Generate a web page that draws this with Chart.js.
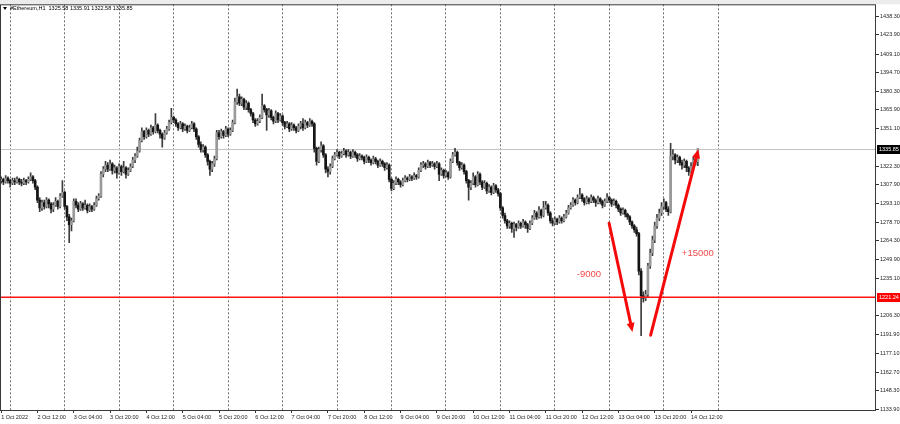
<!DOCTYPE html>
<html>
<head>
<meta charset="utf-8">
<title>#Ethereum,H1</title>
<script src="https://cdn.jsdelivr.net/npm/chart.js@4.4.1/dist/chart.umd.min.js"></script>
<style>
  html, body { margin: 0; padding: 0; background: #fff; }
  #chart { display: block; }
</style>
</head>
<body>
<canvas id="chart" width="900" height="424"></canvas>
<script>
// --- Du lieu: nen H1 #Ethereum, 1 Oct 2022 20:00 -> 14 Oct 2022 15:00 ---
const symbolName = '#Ethereum,H1';

const opens = [
  1311,1312,1310,1313,1311,1309,1311,1310,1312,1310,
  1309,1311,1310,1312,1314,1311,1306,1296,1290,1294,
  1291,1296,1293,1289,1292,1295,1291,1299,1302,1291,
  1283,1277,1280,1295,1292,1289,1293,1290,1292,1288,
  1291,1289,1292,1297,1299,1316,1320,1323,1320,1324,
  1319,1321,1317,1322,1318,1321,1316,1319,1322,1327,
  1330,1334,1342,1349,1345,1350,1347,1352,1349,1354,
  1350,1347,1344,1348,1351,1356,1360,1358,1355,1352,
  1355,1351,1353,1350,1352,1355,1351,1345,1339,1335,
  1337,1331,1326,1320,1324,1328,1348,1345,1349,1346,
  1351,1347,1350,1356,1372,1376,1371,1374,1368,1371,
  1366,1363,1358,1355,1357,1360,1369,1366,1362,1365,
  1360,1357,1363,1358,1361,1356,1353,1355,1351,1354,
  1352,1350,1353,1355,1352,1356,1354,1357,1355,1336,
  1326,1335,1338,1331,1320,1318,1322,1328,1331,1333,
  1330,1332,1334,1331,1333,1330,1333,1331,1328,1330,
  1329,1326,1329,1327,1325,1328,1326,1323,1326,1324,
  1321,1323,1312,1305,1309,1312,1310,1308,1311,1313,
  1312,1314,1313,1315,1314,1319,1323,1324,1322,1325,
  1323,1324,1322,1324,1316,1319,1315,1317,1314,1326,
  1331,1333,1325,1321,1323,1318,1311,1306,1309,1314,
  1308,1316,1310,1306,1309,1303,1306,1302,1307,1304,
  1301,1290,1284,1280,1276,1278,1274,1277,1275,1278,
  1276,1279,1277,1274,1278,1282,1286,1283,1288,1284,
  1290,1292,1286,1280,1278,1281,1279,1282,1280,1283,
  1286,1290,1292,1296,1294,1298,1300,1297,1294,1297,
  1295,1298,1296,1294,1297,1295,1292,1295,1298,1296,
  1293,1295,1292,1289,1286,1288,1285,1283,1279,1276,
  1273,1270,1241,1222,1220,1223,1245,1255,1265,1276,
  1282,1286,1291,1294,1289,1287,1330,1331,1327,1329,
  1325,1323,1326,1321,1318,1322,1327,1325.58
];
const highs = [
  1314,1313,1315,1314,1312,1313,1313,1314,1313,1312,
  1313,1312,1314,1317,1315,1312,1307,1298,1296,1296,
  1298,1297,1294,1294,1298,1296,1301,1311,1303,1292,
  1285,1282,1297,1297,1294,1295,1294,1296,1293,1293,
  1292,1294,1299,1301,1318,1322,1326,1325,1327,1325,
  1323,1322,1324,1323,1326,1322,1321,1324,1329,1332,
  1337,1344,1352,1350,1352,1351,1354,1353,1363,1355,
  1351,1348,1350,1353,1358,1367,1361,1359,1356,1357,
  1356,1355,1354,1354,1357,1356,1352,1346,1341,1339,
  1338,1332,1327,1326,1330,1350,1350,1351,1350,1353,
  1352,1352,1358,1375,1382,1378,1376,1375,1373,1372,
  1367,1364,1359,1359,1362,1378,1370,1367,1367,1366,
  1361,1365,1364,1363,1362,1357,1357,1356,1356,1355,
  1353,1355,1357,1359,1358,1357,1359,1358,1356,1337,
  1337,1341,1339,1332,1322,1324,1330,1333,1335,1334,
  1334,1336,1335,1335,1334,1335,1334,1332,1332,1331,
  1330,1331,1330,1328,1330,1329,1327,1328,1327,1325,
  1325,1324,1313,1311,1314,1313,1311,1313,1315,1314,
  1316,1315,1317,1316,1321,1325,1326,1325,1327,1326,
  1326,1325,1326,1325,1321,1320,1319,1318,1328,1333,
  1336,1334,1326,1325,1324,1319,1312,1311,1317,1315,
  1318,1317,1311,1311,1310,1308,1307,1309,1308,1305,
  1302,1291,1286,1281,1280,1279,1279,1278,1280,1279,
  1281,1280,1278,1280,1284,1288,1287,1291,1289,1295,
  1295,1293,1287,1282,1283,1282,1284,1283,1285,1288,
  1292,1294,1298,1297,1300,1305,1301,1298,1299,1298,
  1300,1299,1297,1299,1298,1296,1297,1301,1299,1297,
  1297,1296,1293,1290,1290,1289,1286,1284,1280,1277,
  1275,1271,1243,1225,1226,1247,1258,1268,1279,1285,
  1289,1294,1297,1295,1291,1340,1335,1332,1331,1330,
  1327,1328,1327,1322,1325,1329,1328,1335.91
];
const lows = [
  1309,1308,1309,1309,1306,1308,1308,1309,1308,1307,
  1308,1308,1309,1311,1309,1304,1294,1287,1288,1289,
  1290,1290,1286,1287,1291,1289,1290,1298,1289,1280,
  1263,1272,1279,1290,1287,1288,1288,1289,1286,1287,
  1287,1288,1291,1296,1298,1314,1318,1318,1319,1316,
  1317,1313,1316,1315,1317,1313,1315,1318,1321,1325,
  1329,1333,1341,1343,1344,1345,1346,1347,1348,1348,
  1344,1337,1343,1347,1350,1355,1356,1353,1350,1351,
  1349,1350,1348,1349,1351,1349,1343,1337,1333,1333,
  1329,1323,1315,1318,1322,1327,1343,1344,1344,1345,
  1345,1346,1349,1355,1370,1369,1369,1366,1366,1364,
  1361,1356,1353,1354,1356,1359,1364,1350,1360,1358,
  1355,1356,1356,1357,1354,1351,1352,1349,1350,1350,
  1348,1349,1351,1350,1351,1352,1353,1353,1333,1323,
  1325,1333,1329,1317,1314,1316,1321,1327,1330,1328,
  1329,1331,1329,1330,1328,1329,1329,1326,1327,1327,
  1324,1325,1325,1323,1324,1324,1321,1322,1322,1319,
  1320,1310,1303,1304,1308,1308,1306,1307,1310,1310,
  1311,1311,1312,1312,1313,1318,1321,1320,1321,1321,
  1322,1320,1321,1311,1315,1313,1314,1312,1313,1325,
  1330,1323,1319,1320,1316,1309,1296,1304,1308,1306,
  1307,1308,1304,1305,1301,1302,1300,1301,1302,1299,
  1288,1282,1278,1274,1274,1271,1267,1272,1274,1274,
  1275,1274,1271,1273,1277,1281,1281,1282,1282,1283,
  1289,1284,1278,1276,1277,1277,1278,1278,1279,1282,
  1285,1289,1291,1292,1293,1297,1295,1292,1293,1293,
  1294,1294,1291,1293,1293,1290,1291,1294,1294,1291,
  1292,1290,1287,1284,1285,1283,1281,1277,1274,1271,
  1268,1238,1191,1217,1218,1221,1243,1253,1263,1274,
  1280,1284,1289,1287,1284,1286,1327,1324,1325,1323,
  1320,1321,1318,1315,1317,1320,1323,1322.58
];
const closes = [
  1312,1310,1313,1311,1309,1311,1310,1312,1310,1309,
  1311,1310,1312,1314,1311,1306,1296,1290,1294,1291,
  1296,1293,1289,1292,1295,1291,1299,1302,1291,1283,
  1277,1280,1295,1292,1289,1293,1290,1292,1288,1291,
  1289,1292,1297,1299,1316,1320,1323,1320,1324,1319,
  1321,1317,1322,1318,1321,1316,1319,1322,1327,1330,
  1334,1342,1349,1345,1350,1347,1352,1349,1354,1350,
  1347,1344,1348,1351,1356,1360,1358,1355,1352,1355,
  1351,1353,1350,1352,1355,1351,1345,1339,1335,1337,
  1331,1326,1320,1324,1328,1348,1345,1349,1346,1351,
  1347,1350,1356,1372,1376,1371,1374,1368,1371,1366,
  1363,1358,1355,1357,1360,1369,1366,1362,1365,1360,
  1357,1363,1358,1361,1356,1353,1355,1351,1354,1352,
  1350,1353,1355,1352,1356,1354,1357,1355,1336,1326,
  1335,1338,1331,1320,1318,1322,1328,1331,1333,1330,
  1332,1334,1331,1333,1330,1333,1331,1328,1330,1329,
  1326,1329,1327,1325,1328,1326,1323,1326,1324,1321,
  1323,1312,1305,1309,1312,1310,1308,1311,1313,1312,
  1314,1313,1315,1314,1319,1323,1324,1322,1325,1323,
  1324,1322,1324,1316,1319,1315,1317,1314,1326,1331,
  1333,1325,1321,1323,1318,1311,1306,1309,1314,1308,
  1316,1310,1306,1309,1303,1306,1302,1307,1304,1301,
  1290,1284,1280,1276,1278,1274,1277,1275,1278,1276,
  1279,1277,1274,1278,1282,1286,1283,1288,1284,1290,
  1292,1286,1280,1278,1281,1279,1282,1280,1283,1286,
  1290,1292,1296,1294,1298,1300,1297,1294,1297,1295,
  1298,1296,1294,1297,1295,1292,1295,1298,1296,1293,
  1295,1292,1289,1286,1288,1285,1283,1279,1276,1273,
  1270,1241,1222,1220,1223,1245,1255,1265,1276,1282,
  1286,1291,1294,1289,1287,1330,1331,1327,1329,1325,
  1323,1326,1321,1318,1322,1327,1325.58,1335.85
];

// nhan truc thoi gian (moi 16 nen)
const xTickLabels = [
  '1 Oct 2022', '2 Oct 12:00', '3 Oct 04:00', '3 Oct 20:00', '4 Oct 12:00',
  '5 Oct 04:00', '5 Oct 20:00', '6 Oct 12:00', '7 Oct 04:00', '7 Oct 20:00',
  '8 Oct 12:00', '9 Oct 04:00', '9 Oct 20:00', '10 Oct 12:00', '11 Oct 04:00',
  '11 Oct 20:00', '12 Oct 12:00', '13 Oct 04:00', '13 Oct 20:00', '14 Oct 12:00'
];
// nhan truc gia
const yTickValues = [
  1438.30, 1423.90, 1409.10, 1394.70, 1380.30, 1365.90, 1351.10,
  1322.30, 1307.90, 1293.10, 1278.70, 1264.30, 1249.90, 1235.10,
  1206.30, 1191.90, 1177.10, 1162.70, 1148.30, 1133.90
];
// muc gia hien tai va duong ngang do
const priceLevels = [1335.85, 1221.24];

// mui ten va chu chu thich (chi so nen, gia)
const arrowFromIdx = [267.9, 286.2];
const arrowFromPrice = [1278.0, 1191.3];
const arrowToIdx = [278.2, 307.2];
const arrowToPrice = [1193.8, 1335.4];
const noteTexts = ['-9000', '+15000'];
const noteIdx = [259.0, 307.0];
const notePrice = [1238.4, 1255.0];

// --- Cau hinh hien thi ---
const SLOT_COUNT = 386;        // so o nen hien tren man hinh
const LABEL_STEP = 16;         // nhan moi 16 nen
const DAY_STEP = 24;           // luoi moi ngay (00:00)
const FIRST_DAY = 4;           // 2 Oct 00:00
const LAST_GRID = 316;
const SMALL_FONT = "'Liberation Sans', Arial, sans-serif";
const SMALL_SIZE = 5.5;

const slotLabels = [];
for (let i = 0; i < SLOT_COUNT; i++) slotLabels.push(String(i));

const labelIdx = xTickLabels.map((_, k) => k * LABEL_STEP);
const gridIdx = [];
for (let i = FIRST_DAY; i <= LAST_GRID; i += DAY_STEP) gridIdx.push(i);
const xTickIdx = Array.from(new Set(labelIdx.concat(gridIdx))).sort((a, b) => a - b);

function isBull(i) { return closes[i] >= opens[i]; }

// --- Plugin: duong gia, mui ten, khung ---
const marksPlugin = {
    id: 'marks',
    beforeDraw(chart) {
        const { ctx, width } = chart;
        ctx.save();
        ctx.fillStyle = '#fff';
        ctx.fillRect(0, 0, width, chart.height);
        ctx.fillStyle = '#ececec';
        ctx.fillRect(0, 0, width, chart.chartArea.top);
        ctx.restore();
    },
    beforeDatasetsDraw(chart) {
        const { ctx, chartArea: a, scales: { y } } = chart;
        const py = Math.round(y.getPixelForValue(priceLevels[0])) + 0.5;
        ctx.save();
        ctx.strokeStyle = '#c4c4c4';
        ctx.lineWidth = 1;
        ctx.beginPath();
        ctx.moveTo(a.left, py);
        ctx.lineTo(a.right, py);
        ctx.stroke();
        ctx.restore();
    },
    afterDatasetsDraw(chart) {
        const { ctx, chartArea: a, scales: { x, y } } = chart;
        ctx.save();
        ctx.setLineDash([]);

        // duong ngang do
        const ry = Math.round(y.getPixelForValue(priceLevels[1]));
        ctx.fillStyle = 'rgb(255,20,20)';
        ctx.fillRect(a.left, ry - 0.5, a.right - a.left, 1.5);

        // mui ten
        ctx.strokeStyle = 'rgb(245,10,10)';
        ctx.fillStyle = 'rgb(245,10,10)';
        ctx.lineWidth = 3;
        ctx.lineCap = 'round';
        for (let k = 0; k < arrowFromIdx.length; k++) {
            const x1 = x.getPixelForValue(arrowFromIdx[k]);
            const y1 = y.getPixelForValue(arrowFromPrice[k]);
            const x2 = x.getPixelForValue(arrowToIdx[k]);
            const y2 = y.getPixelForValue(arrowToPrice[k]);
            const ang = Math.atan2(y2 - y1, x2 - x1);
            const head = 9, hw = 4;
            const bx = x2 - head * Math.cos(ang);
            const by = y2 - head * Math.sin(ang);
            ctx.beginPath();
            ctx.moveTo(x1, y1);
            ctx.lineTo(bx, by);
            ctx.stroke();
            ctx.beginPath();
            ctx.moveTo(x2, y2);
            ctx.lineTo(bx + hw * Math.sin(ang), by - hw * Math.cos(ang));
            ctx.lineTo(bx - hw * Math.sin(ang), by + hw * Math.cos(ang));
            ctx.closePath();
            ctx.fill();
        }

        // chu chu thich
        ctx.fillStyle = '#f24a4a';
        ctx.font = "9.5px 'Liberation Sans', Arial, sans-serif";
        ctx.textAlign = 'center';
        ctx.textBaseline = 'middle';
        noteTexts.forEach(function (t, k) {
            ctx.fillText(t, x.getPixelForValue(noteIdx[k]), y.getPixelForValue(notePrice[k]));
        });
        ctx.restore();
    },
    afterDraw(chart) {
        const { ctx, chartArea: a, scales: { y } } = chart;
        ctx.save();

        // khung vung ve
        ctx.strokeStyle = '#3a3a3a';
        ctx.lineWidth = 1;
        ctx.strokeRect(a.left + 0.5, a.top + 0.5, a.right - a.left - 1, a.bottom - a.top);

        // nhan gia tren truc
        const tagColors = ['#000', '#f00'];
        ctx.font = SMALL_SIZE + 'px ' + SMALL_FONT;
        ctx.textBaseline = 'middle';
        ctx.textAlign = 'left';
        priceLevels.forEach(function (p, k) {
            const py = Math.round(y.getPixelForValue(p));
            ctx.fillStyle = tagColors[k];
            ctx.fillRect(a.right + 1, py - 4, chart.width - a.right - 1, 9);
            ctx.fillStyle = '#fff';
            ctx.fillText(p.toFixed(2), a.right + 3, py + 0.5);
        });

        // tieu de goc trai
        const n = closes.length - 1;
        const head = symbolName + '  ' + [opens[n], highs[n], lows[n], closes[n]].map(v => v.toFixed(2)).join(' ');
        ctx.fillStyle = '#000';
        ctx.beginPath();
        ctx.moveTo(3, 7);
        ctx.lineTo(7, 7);
        ctx.lineTo(5, 10);
        ctx.closePath();
        ctx.fill();
        ctx.fillText(head, 10, 8.5);
        ctx.restore();
    }
};

const chart = new Chart(document.getElementById('chart'), {
    type: 'bar',
    data: {
        labels: slotLabels,
        datasets: [
            {
                label: 'wick',
                data: lows.map((l, i) => [l, highs[i]]),
                backgroundColor: '#3c3c3c',
                barThickness: 1,
                grouped: false,
                order: 2
            },
            {
                label: 'body',
                data: opens.map((o, i) => [o, closes[i]]),
                backgroundColor: ctx => isBull(ctx.dataIndex) ? '#9a9a9a' : '#141414',
                barThickness: 2,
                minBarLength: 1,
                grouped: false,
                order: 1
            }
        ]
    },
    options: {
        responsive: false,
        animation: false,
        devicePixelRatio: 1,
        layout: { padding: { top: 3, left: 0, right: 0, bottom: 0 } },
        plugins: {
            legend: { display: false },
            tooltip: { enabled: false }
        },
        scales: {
            x: {
                offset: true,
                afterBuildTicks: s => { s.ticks = xTickIdx.map(v => ({ value: v })); },
                afterFit: s => { s.height = 14; },
                border: { display: false, dash: [2, 2] },
                grid: {
                    offset: false,
                    lineWidth: 1,
                    color: c => (c.tick && gridIdx.includes(c.tick.value)) ? '#707070' : 'rgba(0,0,0,0)',
                    tickColor: c => (c.tick && labelIdx.includes(c.tick.value)) ? '#333' : 'rgba(0,0,0,0)',
                    tickLength: 3
                },
                ticks: {
                    autoSkip: false,
                    maxRotation: 0,
                    minRotation: 0,
                    align: 'start',
                    padding: 1,
                    color: '#222',
                    font: { size: SMALL_SIZE, family: SMALL_FONT },
                    callback: function (value) {
                        const k = labelIdx.indexOf(value);
                        return k >= 0 ? xTickLabels[k] : '';
                    }
                }
            },
            y: {
                position: 'right',
                min: 1133.4,
                max: 1447.6,
                afterBuildTicks: s => { s.ticks = yTickValues.map(v => ({ value: v })); },
                afterFit: s => { s.width = 24; },
                border: { display: false },
                grid: {
                    drawOnChartArea: false,
                    tickLength: 3,
                    tickColor: '#333'
                },
                ticks: {
                    autoSkip: false,
                    padding: 1,
                    color: '#222',
                    font: { size: SMALL_SIZE, family: SMALL_FONT },
                    callback: v => v.toFixed(2)
                }
            }
        }
    },
    plugins: [marksPlugin]
});
</script>
</body>
</html>
